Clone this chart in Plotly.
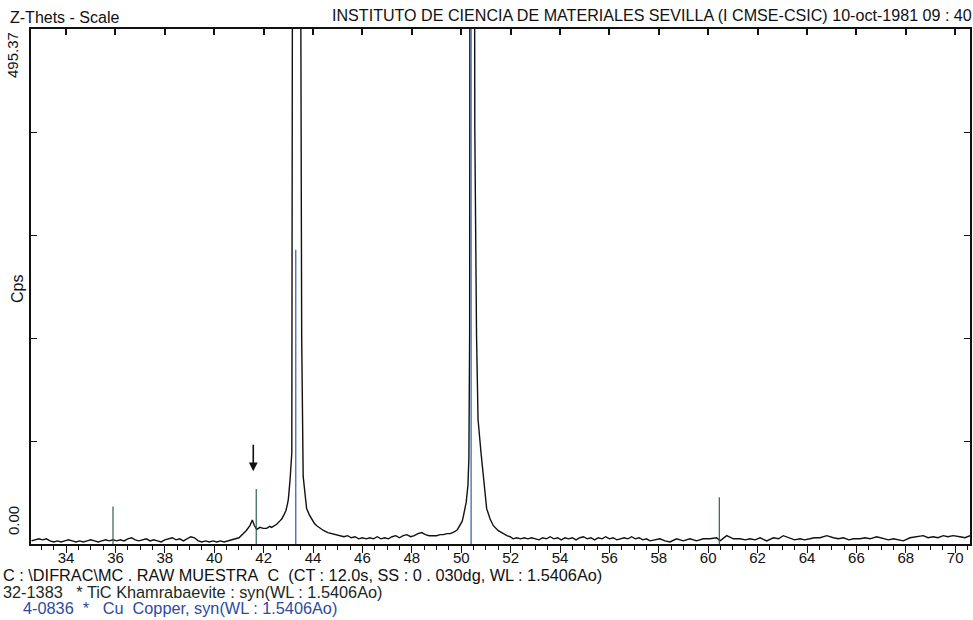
import plotly.graph_objects as go

# ---------------- data ----------------
two_theta = [
    32.60, 32.75, 32.90, 33.05, 33.20, 33.35, 33.50, 33.65, 33.80, 33.95,
    34.10, 34.25, 34.40, 34.55, 34.70, 34.85, 35.00, 35.15, 35.30, 35.45,
    35.60, 35.75, 35.90, 36.05, 36.20, 36.35, 36.50, 36.65, 36.80, 36.95,
    37.10, 37.25, 37.40, 37.55, 37.70, 37.85, 38.00, 38.15, 38.30, 38.45,
    38.60, 38.75, 38.90, 39.05, 39.20, 39.35, 39.50, 39.65, 39.80, 39.95,
    40.10, 40.25, 40.40, 40.55, 40.70, 40.85, 41.00, 41.18, 41.30, 41.45,
    41.54, 41.62, 41.72, 41.85, 41.98, 42.12, 42.25, 42.32, 42.45, 42.53,
    42.65, 42.73, 42.82, 42.90, 42.96, 43.00, 43.07, 43.14, 43.20, 43.30,
    43.40, 43.50, 43.54, 43.60, 43.67, 43.74, 43.85, 43.95, 44.05, 44.15,
    44.30, 44.42, 44.60, 44.82, 45.00, 45.15, 45.25, 45.40, 45.55, 45.70,
    45.85, 46.00, 46.15, 46.30, 46.45, 46.60, 46.75, 46.90, 47.05, 47.20,
    47.35, 47.50, 47.65, 47.80, 47.95, 48.10, 48.25, 48.40, 48.55, 48.70,
    48.85, 49.00, 49.15, 49.28, 49.42, 49.55, 49.65, 49.75, 49.85, 49.96,
    50.04, 50.09, 50.15, 50.20, 50.27, 50.31, 50.34, 50.37, 50.43, 50.50,
    50.55, 50.62, 50.68, 50.80, 50.90, 50.96, 51.03, 51.17, 51.30, 51.50,
    51.70, 51.85, 51.98, 52.10, 52.25, 52.40, 52.55, 52.70, 52.85, 53.00,
    53.15, 53.30, 53.45, 53.60, 53.75, 53.90, 54.05, 54.20, 54.35, 54.50,
    54.65, 54.80, 54.95, 55.10, 55.25, 55.40, 55.55, 55.70, 55.85, 56.00,
    56.15, 56.30, 56.45, 56.60, 56.75, 56.90, 57.05, 57.20, 57.35, 57.50,
    57.64, 57.85, 58.05, 58.25, 58.45, 58.72, 58.99, 59.26, 59.53, 59.80,
    60.07, 60.34, 60.48, 60.75, 61.02, 61.29, 61.50, 61.69, 61.90, 62.10,
    62.37, 62.64, 62.85, 63.04, 63.31, 63.50, 63.72, 63.90, 64.12, 64.30,
    64.53, 64.80, 65.07, 65.27, 65.47, 65.70, 65.88, 66.15, 66.35, 66.55,
    66.82, 67.09, 67.30, 67.50, 67.70, 67.90, 68.17, 68.44, 68.71, 68.90,
    69.11, 69.30, 69.52, 69.70, 69.92, 70.19, 70.40, 70.60,
]
cps = [
    3, 4, 5, 4, 5, 3, 2, 3, 2, 3,
    4, 3, 2, 3, 2, 3, 4, 3, 2, 3,
    4, 3, 4, 3, 4, 3, 5, 6, 4, 3,
    4, 5, 3, 4, 3, 2, 4, 5, 6, 4,
    5, 3, 5, 7, 6, 3, 2, 3, 2, 3,
    2, 3, 2, 3, 4, 5, 6, 10, 13, 18,
    23, 18, 14, 16, 15, 15, 17, 16, 18, 19,
    22, 24, 28, 32, 38, 43, 62, 88, 1200, 2500,
    2000, 550, 200, 65, 46, 34, 28, 24, 20, 17.6,
    15, 13, 11, 9.6, 8.5, 8, 7, 8, 6, 7,
    5, 6, 5, 6, 5, 7, 5, 6, 5, 7,
    8, 6, 8, 9, 7, 8, 10, 11, 9, 8,
    8, 8, 9, 9, 10, 10, 11, 12, 14, 18,
    22, 27, 33, 40, 56, 82, 200, 1500, 3000, 1200,
    400, 200, 120, 88, 62, 46, 34, 24, 17.6, 12.8,
    9.6, 8, 7, 5, 6, 5, 6, 5, 6, 5,
    4, 6, 5, 7, 5, 6, 4, 6, 5, 6,
    4, 6, 7, 5, 6, 4, 6, 5, 7, 5,
    6, 4, 5, 6, 5, 7, 5, 6, 4, 5,
    3, 4, 5, 3, 2, 5, 3, 5, 3, 5,
    5, 6, 3, 8, 5, 5, 4, 5, 4, 6,
    3, 6, 5, 8, 6, 4, 5, 4, 5, 6,
    6, 8, 6, 5, 6, 4, 5, 5, 6, 5,
    7, 5, 4, 5, 4, 3, 6, 7, 8, 6,
    7, 6, 8, 7, 8, 7, 6, 8,
]

tic_pos = [35.90, 41.70, 60.45]      # 32-1383 TiC Khamrabaevite
tic_int = [36, 53, 45]
cu_pos = [43.30, 50.40]              # 4-0836 Cu Copper
cu_int = [283, 560]

y_max = 495.37
x_min, x_max = 32.58, 70.60

title_left = "Z-Thets - Scale"
title_right = "INSTITUTO DE CIENCIA DE MATERIALES SEVILLA (I CMSE-CSIC) 10-oct-1981 09 : 40"
NB = "\u00a0"
info_lines = [
    "C : \\DIFRAC\\MC . RAW MUESTRA" + NB * 2 + "C" + NB * 2 + "(CT : 12.0s, SS : 0 . 030dg, WL : 1.5406Ao)",
    "32-1383" + NB * 3 + "* TiC Khamrabaevite : syn(WL : 1.5406Ao)",
    "4-0836" + NB * 2 + "*" + NB * 3 + "Cu" + NB * 2 + "Copper, syn(WL : 1.5406Ao)",
]

# ---------------- figure ----------------
FONT = "Arial, Liberation Sans, sans-serif"
W, H = 973, 620
ML, MR, MT, MB = 31, 3, 29, 76
PW, PH = W - ML - MR, H - MT - MB


def px(xp):
    return (xp - ML) / PW


def py(yp):
    return (H - MB - yp) / PH


def sticks(pos, inten):
    xs, ys = [], []
    for p, v in zip(pos, inten):
        xs += [p, p, None]
        ys += [0, v, None]
    return xs, ys


fig = go.Figure()
fig.add_trace(go.Scatter(x=two_theta, y=cps, mode="lines",
                         line=dict(color="#111111", width=1.4),
                         showlegend=False, hoverinfo="skip"))
tx, ty = sticks(tic_pos, tic_int)
fig.add_trace(go.Scatter(x=tx, y=ty, mode="lines",
                         line=dict(color="#2f5f55", width=1.2),
                         showlegend=False, hoverinfo="skip"))
cx, cy = sticks(cu_pos, cu_int)
fig.add_trace(go.Scatter(x=cx, y=cy, mode="lines",
                         line=dict(color="#3a66c4", width=1.3),
                         showlegend=False, hoverinfo="skip"))
# dummy trace to activate the mirrored (top/right) axes
fig.add_trace(go.Scatter(x=[None], y=[None], xaxis="x2", yaxis="y2",
                         mode="lines", showlegend=False, hoverinfo="skip"))

fig.update_layout(
    width=W, height=H,
    margin=dict(l=ML, r=MR, t=MT, b=MB, pad=0),
    paper_bgcolor="white", plot_bgcolor="white",
    font=dict(family=FONT, size=16, color="#111111"),
    xaxis=dict(range=[x_min, x_max], showgrid=False, zeroline=False,
               showline=True, linecolor="#111111", linewidth=1.6,
               ticks="outside", tickmode="linear", tick0=34, dtick=2,
               ticklen=7, tickwidth=1.4, tickcolor="#111111",
               ticklabelstandoff=-8,
               tickfont=dict(size=15, family=FONT, color="#111111"),
               minor=dict(ticks="outside", dtick=0.5, tick0=34, ticklen=4,
                          tickwidth=1.1, tickcolor="#111111")),
    yaxis=dict(range=[0, y_max], showgrid=False, zeroline=False,
               showline=True, linecolor="#111111", linewidth=1.6,
               ticks="inside", tickmode="linear", tick0=0, dtick=y_max / 5,
               ticklen=6, tickwidth=1.4, tickcolor="#111111",
               showticklabels=False),
    xaxis2=dict(range=[x_min, x_max], overlaying="x", side="top",
                showgrid=False, zeroline=False, showline=True,
                linecolor="#111111", linewidth=2.2, ticks="inside",
                tickmode="linear", tick0=34, dtick=2, ticklen=6,
                tickwidth=1.6, tickcolor="#111111", showticklabels=False),
    yaxis2=dict(range=[0, y_max], overlaying="y", side="right",
                showgrid=False, zeroline=False, showline=True,
                linecolor="#111111", linewidth=2.0, ticks="inside",
                tickmode="linear", tick0=0, dtick=y_max / 5, ticklen=6,
                tickwidth=1.4, tickcolor="#111111", showticklabels=False),
)

ann = []
ann.append(dict(text=title_left, xref="paper", yref="paper", x=px(8), y=py(17),
                xanchor="left", yanchor="middle", showarrow=False,
                font=dict(size=16, family=FONT, color="#111111")))
ann.append(dict(text=title_right, xref="paper", yref="paper", x=px(974), y=py(15),
                xanchor="right", yanchor="middle", showarrow=False,
                font=dict(size=16.1, family=FONT, color="#111111")))
ann.append(dict(text="%.2f" % y_max, xref="paper", yref="paper", x=px(13), y=py(55),
                xanchor="center", yanchor="middle", textangle=-90, showarrow=False,
                font=dict(size=15, family=FONT, color="#111111")))
ann.append(dict(text="%.2f" % 0, xref="paper", yref="paper", x=px(13), y=py(521),
                xanchor="center", yanchor="middle", textangle=-90, showarrow=False,
                font=dict(size=15, family=FONT, color="#111111")))
ann.append(dict(text="Cps", xref="paper", yref="paper", x=px(17), y=py(289),
                xanchor="center", yanchor="middle", textangle=-90, showarrow=False,
                font=dict(size=16, family=FONT, color="#111111")))
line_cfg = [(1, 575, "#111111"), (1, 591.5, "#1a2a22"), (21, 607.5, "#2c4b9e")]
for (lx, ly, col), txt in zip(line_cfg, info_lines):
    ann.append(dict(text=txt, xref="paper", yref="paper", x=px(lx), y=py(ly),
                    xanchor="left", yanchor="middle", showarrow=False,
                    font=dict(size=16.3, family=FONT, color=col)))
# arrow marking the small TiC reflection
ann.append(dict(text="", x=41.58, y=70, xref="x", yref="y", showarrow=True,
                ax=0, ay=-28, arrowhead=2, arrowsize=1.1, arrowwidth=1.6,
                arrowcolor="#111111"))
fig.update_layout(annotations=ann)

fig.write_html("out.html",
               config={"displayModeBar": False},
               post_script="document.body.style.margin='0px';"
                           "document.body.style.overflow='hidden';")
